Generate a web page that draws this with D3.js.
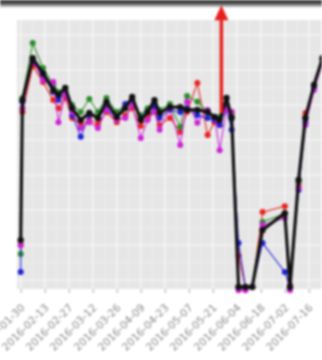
<!DOCTYPE html>
<html>
<head>
<meta charset="utf-8">
<script src="https://cdn.jsdelivr.net/npm/d3@7"></script>
<style>
  html, body { margin: 0; padding: 0; background: #fff; }
  svg { display: block; filter: blur(0.9px); }
</style>
</head>
<body>
<svg id="chart" width="322" height="360"></svg>
<script>
// sample dates shared by every series
const dates = ["2016-01-30","2016-01-31","2016-02-06","2016-02-12","2016-02-18","2016-02-21","2016-02-25",
  "2016-02-29","2016-03-05","2016-03-10","2016-03-15","2016-03-20","2016-03-26","2016-03-31","2016-04-04",
  "2016-04-09","2016-04-13","2016-04-17","2016-04-20","2016-04-26","2016-05-02","2016-05-06","2016-05-12",
  "2016-05-18","2016-05-22","2016-05-25","2016-05-29","2016-06-01","2016-06-05","2016-06-09","2016-06-13",
  "2016-06-19","2016-07-02","2016-07-05","2016-07-10","2016-07-14","2016-07-19","2016-07-24","2016-07-28"];

const redVals = [1.00,4.80,6.11,5.66,5.14,4.91,5.20,4.63,4.43,4.57,4.46,4.80,4.51,4.71,4.91,4.40,4.63,4.86,4.43,4.63,
  4.23,4.80,5.63,4.14,4.51,4.43,4.91,4.80,0.69,-0.20,-0.20,1.94,2.11,-0.14,2.71,4.77,5.49,6.29,6.97];
const greenVals = [0.74,5.20,6.77,6.06,5.57,5.37,5.43,5.00,4.80,5.17,4.80,5.20,4.80,5.00,5.14,4.71,4.91,5.06,4.86,5.03,
  4.37,5.26,5.09,4.80,4.63,4.66,5.00,4.71,-0.20,-0.20,-0.20,1.66,1.89,-0.20,2.80,4.63,5.54,6.34,7.00];
const blueVals = [0.23,5.09,6.23,5.83,5.37,5.14,5.37,4.71,4.09,4.71,4.63,4.91,4.63,5.03,5.14,4.63,4.80,4.97,4.63,4.86,
  4.80,4.91,4.71,4.63,4.57,4.43,4.91,4.29,1.06,-0.20,-0.20,1.06,0.23,-0.20,2.57,4.51,5.49,6.29,6.97];
const magentaVals = [1.00,4.91,6.29,5.71,5.66,4.51,5.29,4.80,4.34,4.51,4.34,4.86,4.57,4.63,5.00,4.06,4.57,4.80,4.29,4.94,
  3.86,5.09,4.49,4.86,4.66,3.71,4.86,4.80,-0.29,-0.29,-0.20,1.57,1.77,-0.29,2.63,4.43,5.43,6.23,6.91];
const blackVals = [1.14,5.14,6.34,5.91,5.43,5.29,5.49,4.91,4.57,4.77,4.63,5.09,4.66,4.91,5.23,4.57,4.80,5.14,4.77,4.94,
  4.94,4.86,4.86,4.80,4.66,4.57,5.20,4.63,-0.20,-0.20,-0.20,1.43,1.91,-0.20,2.86,4.63,5.57,6.34,7.00];

// x tick labels (every two weeks)
const tickDates = ["2016-01-30","2016-02-13","2016-02-27","2016-03-12","2016-03-26","2016-04-09","2016-04-23",
  "2016-05-07","2016-05-21","2016-06-04","2016-06-18","2016-07-02","2016-07-16"];

// annotation arrow
const arrowDate = "2016-05-26";
const arrowFrom = 4.77;
const arrowTo = 7.85;

const parse = d3.utcParse("%Y-%m-%d");
const fmt = d3.utcFormat("%Y-%m-%d");
const day = 864e5;

const svg = d3.select("#chart");
const panel = { left: 17, right: 338, top: 20, bottom: 289 };

const t0 = parse("2016-01-30");
const x = d3.scaleUtc()
  .domain([new Date(+t0 - 2.16 * day), new Date(+t0 + 185 * day)])
  .range([panel.left, panel.right]);
const y = d3.scaleLinear().domain([0, 7]).range([280, 35]);

// dark strip at the very top
const grad = svg.append("defs").append("linearGradient")
  .attr("id", "topfade").attr("x1", 0).attr("y1", 0).attr("x2", 0).attr("y2", 1);
grad.append("stop").attr("offset", "0%").attr("stop-color", "#2e2e2e");
grad.append("stop").attr("offset", "45%").attr("stop-color", "#555");
grad.append("stop").attr("offset", "100%").attr("stop-color", "#fff");
svg.append("rect").attr("x", 0).attr("y", 0).attr("width", 322).attr("height", 8).attr("fill", "url(#topfade)");

svg.select("defs").append("clipPath").attr("id", "pclip")
  .append("rect").attr("x", panel.left).attr("y", panel.top)
  .attr("width", panel.right - panel.left).attr("height", panel.bottom - panel.top);

svg.append("rect")
  .attr("x", panel.left).attr("y", panel.top)
  .attr("width", panel.right - panel.left).attr("height", panel.bottom - panel.top)
  .attr("fill", "#e6e6e6");

const grid = svg.append("g").attr("clip-path", "url(#pclip)");
const majorX = tickDates.map(parse);
const minorX = majorX.map(d => new Date(+d + 7 * day)).concat([new Date(+majorX[0] - 7 * day)]);
const majorY = d3.range(0, 8);
const minorY = d3.range(-0.5, 8, 1);

grid.selectAll(".minx").data(minorX).enter().append("line")
  .attr("x1", d => x(d)).attr("x2", d => x(d)).attr("y1", panel.top).attr("y2", panel.bottom)
  .attr("stroke", "#f0f0f0").attr("stroke-width", 0.7);
grid.selectAll(".miny").data(minorY).enter().append("line")
  .attr("x1", panel.left).attr("x2", panel.right).attr("y1", d => y(d)).attr("y2", d => y(d))
  .attr("stroke", "#f0f0f0").attr("stroke-width", 0.7);
grid.selectAll(".majx").data(majorX).enter().append("line")
  .attr("x1", d => x(d)).attr("x2", d => x(d)).attr("y1", panel.top).attr("y2", panel.bottom)
  .attr("stroke", "#fafafa").attr("stroke-width", 1.2);
grid.selectAll(".majy").data(majorY).enter().append("line")
  .attr("x1", panel.left).attr("x2", panel.right).attr("y1", d => y(d)).attr("y2", d => y(d))
  .attr("stroke", "#fafafa").attr("stroke-width", 1.2);

// x axis
const xAxis = svg.append("g")
  .attr("transform", "translate(0," + panel.bottom + ")")
  .call(d3.axisBottom(x).tickValues(majorX).tickFormat(fmt).tickSize(4).tickPadding(3));
xAxis.select(".domain").remove();
xAxis.selectAll(".tick line").attr("stroke", "#a5a5a5");
xAxis.selectAll("text")
  .attr("fill", "#8a8a8a")
  .style("font-family", "DejaVu Sans, sans-serif")
  .style("font-size", "10.5px")
  .style("text-anchor", "end")
  .attr("transform", "translate(-6,9)rotate(-45)");

// series
const series = [
  { vals: redVals, color: "#e8221e" },
  { vals: greenVals, color: "#2a8c2a" },
  { vals: blueVals, color: "#2020d8" },
  { vals: magentaVals, color: "#cc22d6" }
];
const line = d3.line().x(d => x(d.date)).y(d => y(d.v));

series.forEach(s => {
  const pts = dates.map((d, i) => ({ date: parse(d), v: s.vals[i] }));
  svg.append("path").datum(pts).attr("d", line)
    .attr("fill", "none").attr("stroke", s.color).attr("stroke-width", 1.1);
  svg.append("g").selectAll("circle").data(pts).enter().append("circle")
    .attr("cx", d => x(d.date)).attr("cy", d => y(d.v)).attr("r", 3)
    .attr("fill", s.color);
});

const blackPts = dates.map((d, i) => ({ date: parse(d), v: blackVals[i] }));
svg.append("path").datum(blackPts).attr("d", line)
  .attr("fill", "none").attr("stroke", "#111").attr("stroke-width", 3.2).attr("stroke-linejoin", "round");
svg.append("g").selectAll("circle").data(blackPts).enter().append("circle")
  .attr("cx", d => x(d.date)).attr("cy", d => y(d.v)).attr("r", 3.2)
  .attr("fill", "#111");

// red arrow annotation
const ax = x(parse(arrowDate));
svg.append("line")
  .attr("x1", ax).attr("x2", ax)
  .attr("y1", y(arrowFrom)).attr("y2", y(arrowTo) + 12)
  .attr("stroke", "#e8201c").attr("stroke-width", 3.5);
svg.append("path")
  .attr("d", `M${ax - 7},${y(arrowTo) + 15} L${ax},${y(arrowTo)} L${ax + 7},${y(arrowTo) + 15} Z`)
  .attr("fill", "#e8201c");
</script>
</body>
</html>
